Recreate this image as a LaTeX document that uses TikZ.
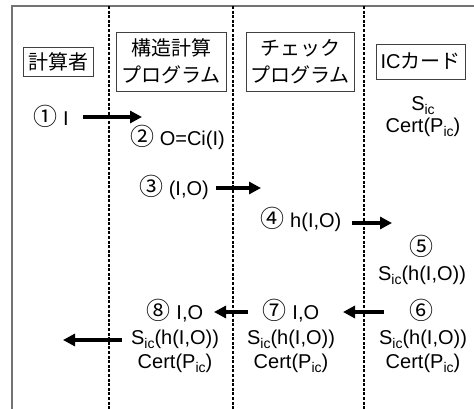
\documentclass[tikz,border=0pt]{standalone}
\usepackage{fontspec}
\setmainfont{Liberation Sans}
\newfontfamily\jp{Noto Sans CJK JP}
\usetikzlibrary{arrows.meta}
\newcommand{\ic}{\raisebox{-4pt}{\fontsize{14}{14}\selectfont ic}}
\newcommand{\cn}[1]{{\jp\fontsize{24}{24}\selectfont #1}}
\begin{document}
\begin{tikzpicture}[x=1pt,y=-1pt,
  lbl/.style={inner sep=0pt, anchor=base, font=\fontsize{20}{24}\selectfont},
  hdr/.style={draw=black!75, line width=0.9pt, align=center, inner sep=0pt,
              font=\jp\fontsize{20}{27}\selectfont},
  msg/.style={line width=4pt, -{Triangle[length=12pt,width=12pt]}},
  lane/.style={line width=1.3pt, dash pattern=on 3pt off 1.6pt},
  frame/.style={draw=black!55, line width=1.4pt}]
\useasboundingbox (0,0) rectangle (474,409);
% frame
\coordinate (fb) at (12,409);
\coordinate (fc) at (12,6);
\coordinate (fr) at (474,6);
\draw[frame] (fb) -- (fc) -- (fr);
% lanes
\foreach \x/\n in {109/a,233/b,364/c}{
  \coordinate (top\n) at (\x,6);
  \coordinate (bot\n) at (\x,409);
  \draw[lane] (top\n) -- (bot\n);
}
% headers
\node[hdr, minimum width=70pt, minimum height=29pt] (h1) at (58,61.5) {計算者};
\node[hdr, minimum width=110pt, minimum height=59pt] (h2) at (171,61.5) {構造計算\\プログラム};
\node[hdr, minimum width=108pt, minimum height=59pt] (h3) at (300,61.5) {チェック\\プログラム};
\node[hdr, minimum width=89pt, minimum height=35pt] (h4) at (420.5,61.5) {{\fontspec{Liberation Sans}IC}カード};
% IC card contents
\node[lbl] (s0) at (423,111) {S\ic};
\node[lbl] (c0) at (423,133) {Cert(P\ic)};
% step labels
\node[lbl] (l1) at (51,126) {\cn{①} I};
\node[lbl] (l2) at (177.5,146) {\cn{②} O=Ci(I)};
\node[lbl] (l3) at (174,195) {\cn{③} (I,O)};
\node[lbl] (l4) at (301,227) {\cn{④} h(I,O)};
\node[lbl] (l5) at (421,255) {\cn{⑤}};
\node[lbl] (l5b) at (422,280) {S\ic(h(I,O))};
\node[lbl] (l6) at (421,319.5) {\cn{⑥}};
\node[lbl] (l6b) at (423,344) {S\ic(h(I,O))};
\node[lbl] (l6c) at (423,368) {Cert(P\ic)};
\node[lbl] (l7) at (291,319.5) {\cn{⑦} I,O};
\node[lbl] (l7b) at (291,344) {S\ic(h(I,O))};
\node[lbl] (l7c) at (291,368) {Cert(P\ic)};
\node[lbl] (l8) at (175,319.5) {\cn{⑧} I,O};
\node[lbl] (l8b) at (175,344) {S\ic(h(I,O))};
\node[lbl] (l8c) at (175,368) {Cert(P\ic)};
% arrows
\coordinate (a1s) at (83,117);  \coordinate (a1e) at (142,117);
\coordinate (a3s) at (216,188); \coordinate (a3e) at (261,188);
\coordinate (a4s) at (352,223); \coordinate (a4e) at (392,223);
\coordinate (a6s) at (384,312); \coordinate (a6e) at (343,312);
\coordinate (a7s) at (248,312); \coordinate (a7e) at (214,312);
\coordinate (a8s) at (122,340); \coordinate (a8e) at (63,340);
\draw[msg] (a1s) -- (a1e);
\draw[msg] (a3s) -- (a3e);
\draw[msg] (a4s) -- (a4e);
\draw[msg] (a6s) -- (a6e);
\draw[msg] (a7s) -- (a7e);
\draw[msg] (a8s) -- (a8e);
\end{tikzpicture}
\end{document}
